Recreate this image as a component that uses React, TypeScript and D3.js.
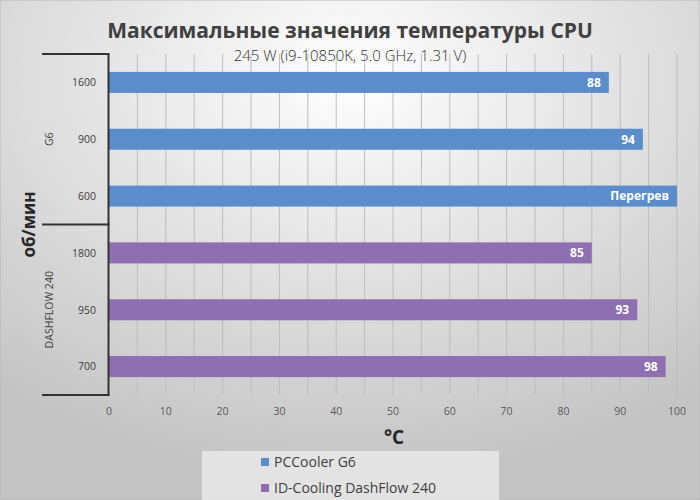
import * as d3 from "d3";
import { useEffect, useRef } from "react";

interface Row {
  group: string;
  rpm: string;
  value: number;
  label: string;
}

const groups = ["G6", "DASHFLOW 240"];
const series = ["PCCooler G6", "ID-Cooling DashFlow 240"];
const g6Rpm = ["1600", "900", "600"];
const g6Values = [88, 94, 100];
const g6Labels = ["88", "94", "Перегрев"];
const dfRpm = ["1800", "950", "700"];
const dfValues = [85, 93, 98];
const dfLabels = ["85", "93", "98"];
const xTicks = [0, 10, 20, 30, 40, 50, 60, 70, 80, 90, 100];

const colors = ["#5b8dcb", "#8e6fb0"];
const FONT = "'Open Sans', 'Noto Sans', sans-serif";

export default function App() {
  const svgRef = useRef<SVGSVGElement>(null);

  useEffect(() => {
    if (!svgRef.current) return;
    document.body.style.margin = "0";
    const width = 700;
    const height = 500;
    const svg = d3.select<SVGSVGElement, unknown>(svgRef.current);
    svg.selectAll("*").remove();
    svg.attr("width", width).attr("height", height);

    const rows: Row[] = [
      ...g6Rpm.map((r, i) => ({ group: groups[0], rpm: r, value: g6Values[i], label: g6Labels[i] })),
      ...dfRpm.map((r, i) => ({ group: groups[1], rpm: r, value: dfValues[i], label: dfLabels[i] })),
    ];

    // Background gradient
    const defs = svg.append("defs");
    const grad = defs
      .append("radialGradient")
      .attr("id", "bg")
      .attr("cx", "50%")
      .attr("cy", "15%")
      .attr("r", "80%");
    grad.append("stop").attr("offset", "0%").attr("stop-color", "#ffffff");
    grad.append("stop").attr("offset", "100%").attr("stop-color", "#c4c4c4");

    svg
      .append("rect")
      .attr("width", width)
      .attr("height", height)
      .attr("fill", "url(#bg)")
      .attr("stroke", "#b8b8b8");

    const top = 54;
    const bottom = 395;
    const x = d3.scaleLinear().domain([0, 100]).range([109, 677]);
    const y = d3
      .scaleBand<string>()
      .domain(rows.map((d) => d.group + d.rpm))
      .range([top, bottom])
      .paddingInner(0.63)
      .paddingOuter(0.315);

    // Gridlines every 5
    svg
      .append("g")
      .selectAll("line")
      .data(d3.range(5, 101, 5))
      .enter()
      .append("line")
      .attr("x1", (d) => x(d))
      .attr("x2", (d) => x(d))
      .attr("y1", top)
      .attr("y2", bottom)
      .attr("stroke", "#bdbdbd")
      .attr("stroke-width", 1);

    // Bars
    svg
      .append("g")
      .selectAll("rect")
      .data(rows)
      .enter()
      .append("rect")
      .attr("x", x(0))
      .attr("y", (d) => y(d.group + d.rpm)!)
      .attr("width", (d) => x(d.value) - x(0))
      .attr("height", y.bandwidth())
      .attr("fill", (d) => (d.group === groups[0] ? colors[0] : colors[1]));

    // Value labels
    svg
      .append("g")
      .selectAll("text")
      .data(rows)
      .enter()
      .append("text")
      .attr("x", (d) => x(d.value) - 8)
      .attr("y", (d) => y(d.group + d.rpm)! + y.bandwidth() / 2)
      .attr("dy", "0.36em")
      .attr("text-anchor", "end")
      .attr("fill", "#ffffff")
      .attr("font-weight", "bold")
      .attr("font-size", 12)
      .attr("font-family", FONT)
      .text((d) => d.label);

    // Category labels
    svg
      .append("g")
      .selectAll("text")
      .data(rows)
      .enter()
      .append("text")
      .attr("x", 96)
      .attr("y", (d) => y(d.group + d.rpm)! + y.bandwidth() / 2)
      .attr("dy", "0.36em")
      .attr("text-anchor", "end")
      .attr("fill", "#404040")
      .attr("font-size", 10.5)
      .attr("font-family", FONT)
      .text((d) => d.rpm);

    // Axis & group separators
    const axisColor = "#333333";
    svg
      .append("line")
      .attr("x1", 108.5)
      .attr("x2", 108.5)
      .attr("y1", top)
      .attr("y2", bottom)
      .attr("stroke", axisColor)
      .attr("stroke-width", 2);
    const sepY = [top, (top + bottom) / 2, bottom];
    svg
      .append("g")
      .selectAll("line")
      .data(sepY)
      .enter()
      .append("line")
      .attr("x1", 42)
      .attr("x2", 109.5)
      .attr("y1", (d) => d)
      .attr("y2", (d) => d)
      .attr("stroke", axisColor)
      .attr("stroke-width", 2);

    // Group labels
    groups.forEach((gName) => {
      const ids = rows.filter((r) => r.group === gName).map((r) => r.group + r.rpm);
      const cy = (y(ids[0])! + y(ids[ids.length - 1])! + y.bandwidth()) / 2;
      svg
        .append("text")
        .attr("transform", `translate(53, ${cy}) rotate(-90)`)
        .attr("text-anchor", "middle")
        .attr("fill", "#404040")
        .attr("font-size", 10.5)
        .attr("font-family", FONT)
        .text(gName);
    });

    svg
      .append("text")
      .attr("transform", `translate(35, ${(top + bottom) / 2}) rotate(-90)`)
      .attr("text-anchor", "middle")
      .attr("fill", "#262626")
      .attr("font-size", 17)
      .attr("font-weight", "bold")
      .attr("font-family", FONT)
      .text("об/мин");

    // X tick labels
    svg
      .append("g")
      .selectAll("text")
      .data(xTicks)
      .enter()
      .append("text")
      .attr("x", (d) => x(d))
      .attr("y", 415)
      .attr("text-anchor", "middle")
      .attr("fill", "#595959")
      .attr("font-size", 10.5)
      .attr("font-family", FONT)
      .text((d) => String(d));

    svg
      .append("text")
      .attr("x", 394)
      .attr("y", 444)
      .attr("text-anchor", "middle")
      .attr("fill", "#262626")
      .attr("font-size", 19)
      .attr("font-weight", "bold")
      .attr("font-family", FONT)
      .text("°C");

    // Title
    svg
      .append("text")
      .attr("x", 350)
      .attr("y", 38)
      .attr("text-anchor", "middle")
      .attr("fill", "#404040")
      .attr("font-size", 21)
      .attr("font-weight", "bold")
      .attr("font-family", FONT)
      .text("Максимальные значения температуры CPU");

    svg
      .append("text")
      .attr("x", 350)
      .attr("y", 61)
      .attr("text-anchor", "middle")
      .attr("fill", "#333333")
      .attr("font-size", 15)
      .attr("font-weight", 300)
      .attr("font-family", FONT)
      .text("245 W (i9-10850K, 5.0 GHz, 1.31 V)");

    // Legend
    const lg = svg.append("g");
    lg.append("rect")
      .attr("x", 202)
      .attr("y", 451)
      .attr("width", 297)
      .attr("height", 49)
      .attr("fill", "#ebebeb")
      .attr("opacity", 0.8);
    series.forEach((s, i) => {
      const ly = 462 + i * 26;
      lg.append("rect")
        .attr("x", 261)
        .attr("y", ly - 4)
        .attr("width", 8)
        .attr("height", 8)
        .attr("fill", colors[i]);
      lg.append("text")
        .attr("x", 274)
        .attr("y", ly)
        .attr("dy", "0.36em")
        .attr("fill", "#404040")
        .attr("font-size", 14)
        .attr("font-family", FONT)
        .text(s);
    });
  }, []);

  return <svg ref={svgRef} style={{ display: "block" }}></svg>;
}
